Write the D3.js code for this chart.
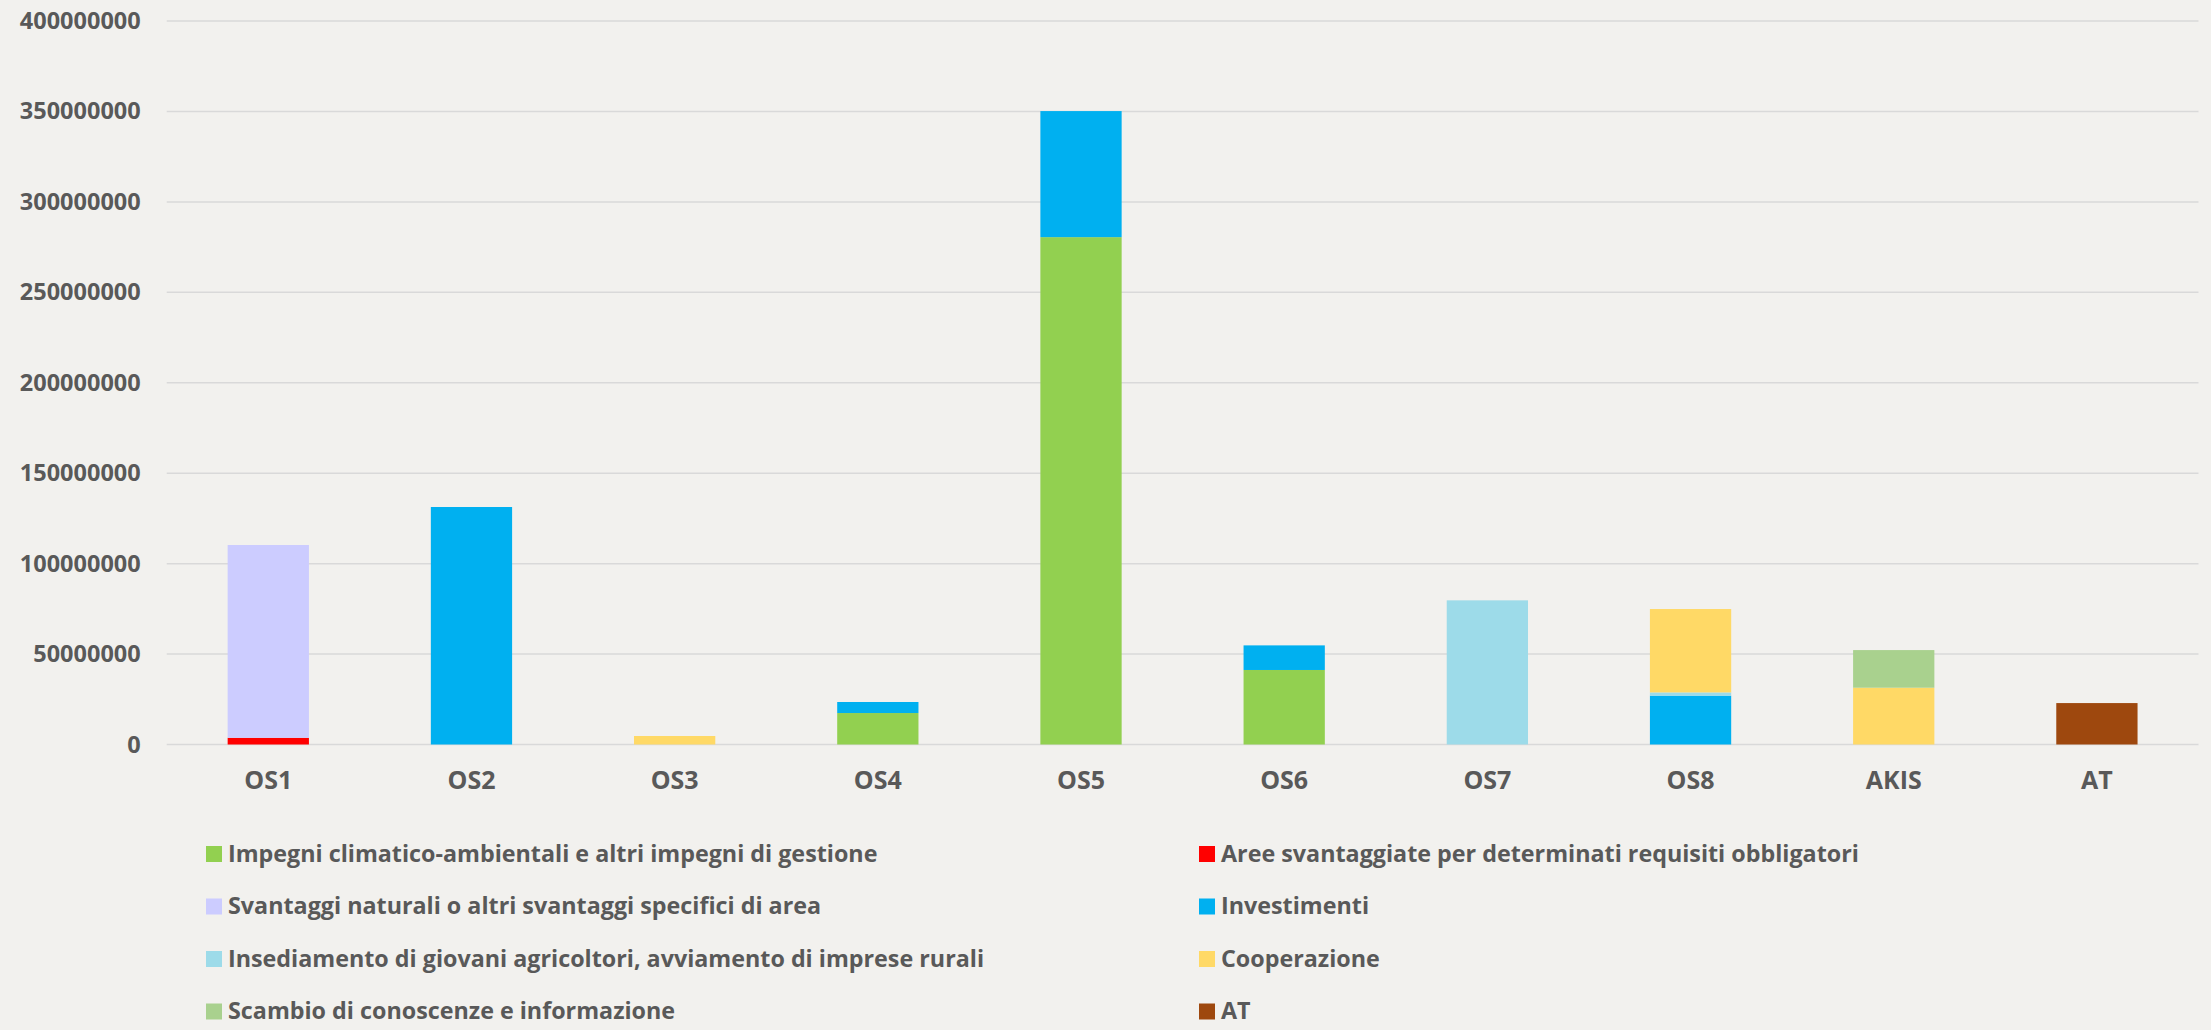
<!DOCTYPE html>
<html lang="it">
<head>
<meta charset="UTF-8">
<title>Risorse per OS</title>
<script src="https://cdnjs.cloudflare.com/ajax/libs/d3/7.9.0/d3.min.js"></script>
<style>
    body { margin: 0; background: #f2f1ee; }
    svg { display: block; }
</style>
</head>
<body>
<svg width="2211" height="1030"></svg>
<script>
    // Categorie (obiettivi specifici)
    const categories = ["OS1", "OS2", "OS3", "OS4", "OS5", "OS6", "OS7", "OS8", "AKIS", "AT"];

    // Serie, nell'ordine di impilamento (dal basso verso l'alto)
    const seriesNames = [
        "Impegni climatico-ambientali e altri impegni di gestione",
        "Aree svantaggiate per determinati requisiti obbligatori",
        "Svantaggi naturali o altri svantaggi specifici di area",
        "Investimenti",
        "Insediamento di giovani agricoltori, avviamento di imprese rurali",
        "Cooperazione",
        "Scambio di conoscenze e informazione",
        "AT"
    ];
    const seriesColors = ["#92d050", "#ff0000", "#ccccff", "#00b0f0", "#9ddbe9", "#ffd966", "#a9d18e", "#9e480e"];

    // Valori (euro)
    const impegni      = [0, 0, 0, 17400000, 280500000, 41200000, 0, 0, 0, 0];
    const areeSvant    = [3700000, 0, 0, 0, 0, 0, 0, 0, 0, 0];
    const svantaggi    = [106600000, 0, 0, 0, 0, 0, 0, 0, 0, 0];
    const investimenti = [0, 131300000, 0, 6100000, 69700000, 13600000, 0, 27000000, 0, 0];
    const insediamento = [0, 0, 0, 0, 0, 0, 79700000, 1800000, 0, 0];
    const cooperazione = [0, 0, 4700000, 0, 0, 0, 0, 46100000, 31400000, 0];
    const scambio      = [0, 0, 0, 0, 0, 0, 0, 0, 20800000, 0];
    const at           = [0, 0, 0, 0, 0, 0, 0, 0, 0, 22900000];

    const yTicks = [0, 50000000, 100000000, 150000000, 200000000, 250000000, 300000000, 350000000, 400000000];

    const allSeries = [impegni, areeSvant, svantaggi, investimenti, insediamento, cooperazione, scambio, at];

    // tabella per d3.stack
    let table = categories.map((c, i) => {
        let row = { cat: c };
        seriesNames.forEach((s, j) => row[s] = allSeries[j][i]);
        return row;
    });

    let svg = d3.select("svg");
    const textColor = "#595959";

    let x = d3.scaleBand()
        .domain(categories)
        .range([166.7, 2198.5])
        .paddingInner(0.6)
        .paddingOuter(0.3);

    let y = d3.scaleLinear()
        .domain([0, 400000000])
        .range([744.5, 21]);

    // griglia
    svg.append("g")
        .selectAll("line")
        .data(yTicks)
        .join("line")
        .attr("x1", 166.7)
        .attr("x2", 2198.5)
        .attr("y1", d => y(d))
        .attr("y2", d => y(d))
        .attr("stroke", "#d9d9d9")
        .attr("stroke-width", 1.5);

    // asse y (solo etichette)
    let yAxis = svg.append("g")
        .attr("transform", "translate(166.7,0)")
        .call(d3.axisLeft(y).tickValues(yTicks).tickFormat(d3.format("d")).tickSize(0).tickPadding(26));
    yAxis.select(".domain").remove();
    yAxis.selectAll("text")
        .attr("fill", textColor)
        .attr("font-family", "'Open Sans', sans-serif")
        .attr("font-weight", 700)
        .attr("font-size", "23.5px");

    // barre impilate
    let stacked = d3.stack().keys(seriesNames)(table);

    svg.append("g")
        .selectAll("g")
        .data(stacked)
        .join("g")
        .attr("fill", (d, i) => seriesColors[i])
        .selectAll("rect")
        .data(d => d.filter(p => p[1] - p[0] > 0))
        .join("rect")
        .attr("x", d => x(d.data.cat))
        .attr("width", x.bandwidth())
        .attr("y", d => y(d[1]))
        .attr("height", d => y(d[0]) - y(d[1]));

    // asse x (solo etichette)
    let xAxis = svg.append("g")
        .attr("transform", "translate(0,744.5)")
        .call(d3.axisBottom(x).tickSize(0).tickPadding(27));
    xAxis.select(".domain").remove();
    xAxis.selectAll("text")
        .attr("fill", textColor)
        .attr("font-family", "'Open Sans', sans-serif")
        .attr("font-weight", 700)
        .attr("font-size", "25px");

    // legenda su due colonne
    const legendX = [206, 1199];
    let legend = svg.append("g")
        .selectAll("g")
        .data(seriesNames)
        .join("g")
        .attr("transform", (d, i) => `translate(${legendX[i % 2]},${846 + Math.floor(i / 2) * 52.5})`);

    legend.append("rect")
        .attr("width", 16)
        .attr("height", 16)
        .attr("fill", (d, i) => seriesColors[i]);

    legend.append("text")
        .attr("x", 22)
        .attr("y", 15.5)
        .attr("fill", textColor)
        .attr("font-family", "'Open Sans', sans-serif")
        .attr("font-weight", 700)
        .attr("font-size", "23.3px")
        .text(d => d);
</script>
</body>
</html>
